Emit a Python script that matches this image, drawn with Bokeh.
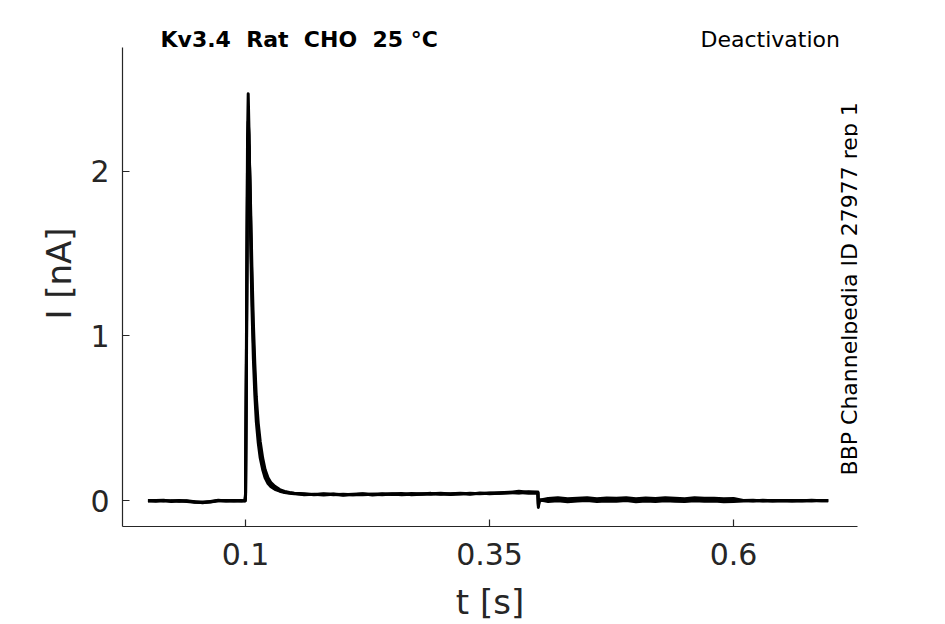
import math
from bokeh.plotting import figure
from bokeh.models import Range1d, FixedTicker, Label, ColumnDataSource
from bokeh.embed import file_html
from bokeh.resources import INLINE

# ---- data ----
t = [0.000, 0.008, 0.016, 0.024, 0.032, 0.040, 0.048, 0.056, 0.064, 0.072, 0.080, 0.088, 0.096, 0.0995,
     0.1000, 0.1010, 0.1020, 0.1027, 0.1035, 0.1045, 0.1055, 0.1065, 0.1080, 0.1095, 0.1110, 0.1130,
     0.1150, 0.1175, 0.1200, 0.1230, 0.1260, 0.1300, 0.1350, 0.1400, 0.1450, 0.1500,
     0.160, 0.170, 0.180, 0.190, 0.200, 0.210, 0.220, 0.230, 0.240, 0.250, 0.260, 0.270,
     0.280, 0.290, 0.300, 0.310, 0.320, 0.330, 0.340, 0.350, 0.360, 0.370, 0.380, 0.390, 0.3995,
     0.4000, 0.4010,
     0.410, 0.420, 0.430, 0.440, 0.450, 0.460, 0.470, 0.480, 0.490, 0.500, 0.510, 0.520, 0.530,
     0.540, 0.550, 0.560, 0.570, 0.580, 0.590, 0.600,
     0.610, 0.620, 0.630, 0.640, 0.650, 0.660, 0.670, 0.680, 0.690, 0.697]

sweep_a = [0.002, -0.003, 0.001, -0.004, 0.000, -0.002, -0.008, -0.010, -0.006, 0.001, 0.000, 0.002, -0.001, 0.000,
           0.05, 1.10, 2.20, 2.47, 2.25, 1.85, 1.48, 1.18, 0.86, 0.64, 0.48, 0.35,
           0.26, 0.19, 0.14, 0.105, 0.085, 0.070, 0.058, 0.050, 0.046, 0.043,
           0.040, 0.038, 0.042, 0.037, 0.040, 0.036, 0.041, 0.039, 0.043, 0.038, 0.040, 0.044,
           0.041, 0.045, 0.040, 0.043, 0.046, 0.042, 0.044, 0.048, 0.045, 0.047, 0.050, 0.046, 0.048,
           -0.030, 0.004,
           0.014, 0.018, 0.012, 0.016, 0.019, 0.013, 0.017, 0.015, 0.019, 0.012, 0.017, 0.014, 0.018,
           0.015, 0.013, 0.018, 0.015, 0.016, 0.012, 0.014,
           0.002, -0.001, 0.003, 0.000, 0.002, -0.002, 0.001, 0.003, 0.000, 0.001]

sweep_b = [0.000, 0.002, -0.002, 0.001, -0.003, 0.000, -0.006, -0.012, -0.004, 0.003, -0.001, 0.000, 0.001, -0.001,
           0.04, 1.00, 2.05, 2.30, 2.22, 1.92, 1.60, 1.30, 0.97, 0.74, 0.56, 0.41,
           0.31, 0.22, 0.165, 0.12, 0.095, 0.077, 0.062, 0.053, 0.048, 0.045,
           0.036, 0.040, 0.035, 0.039, 0.034, 0.038, 0.036, 0.040, 0.037, 0.041, 0.036, 0.039,
           0.043, 0.040, 0.042, 0.038, 0.041, 0.045, 0.043, 0.046, 0.049, 0.052, 0.047, 0.055, 0.050,
           -0.040, 0.002,
           0.005, 0.009, 0.003, 0.007, 0.010, 0.004, 0.008, 0.006, 0.010, 0.003, 0.008, 0.005, 0.009,
           0.006, 0.004, 0.009, 0.006, 0.007, 0.003, 0.005,
           0.001, 0.003, -0.001, 0.002, 0.000, 0.002, -0.001, 0.001, 0.002, 0.000]

sweep_c = [-0.001, 0.001, 0.003, -0.002, 0.002, -0.004, -0.009, -0.007, -0.008, 0.000, 0.002, -0.002, 0.000, 0.001,
           0.03, 0.90, 1.90, 2.18, 2.15, 1.95, 1.70, 1.42, 1.08, 0.83, 0.63, 0.47,
           0.36, 0.26, 0.19, 0.14, 0.11, 0.088, 0.068, 0.057, 0.050, 0.046,
           0.042, 0.036, 0.039, 0.041, 0.037, 0.040, 0.043, 0.035, 0.040, 0.042, 0.044, 0.037,
           0.040, 0.042, 0.046, 0.041, 0.044, 0.040, 0.047, 0.043, 0.046, 0.050, 0.058, 0.052, 0.054,
           -0.020, 0.006,
           -0.004, 0.000, -0.006, -0.002, 0.001, -0.005, -0.001, -0.003, 0.001, -0.006, -0.001, -0.004, 0.000,
           -0.003, -0.005, 0.000, -0.003, -0.002, -0.006, -0.004,
           -0.001, 0.001, 0.000, -0.002, 0.001, 0.000, 0.002, -0.001, 0.001, 0.000]

sweeps = [sweep_a, sweep_b, sweep_c]

x_ticks = [0.1, 0.35, 0.6]
x_tick_labels = ["0.1", "0.35", "0.6"]
y_ticks = [0, 1, 2]
y_tick_labels = ["0", "1", "2"]

# double gaps kept visible with a non-breaking space (SVG collapses plain runs of spaces)
title_left = "Kv3.4\u00a0 Rat\u00a0 CHO\u00a0 25 \u00b0C"
title_right = "Deactivation"
side_text = "BBP Channelpedia ID 27977 rep 1"

# ---- figure ----
FONT = "DejaVu Sans"
INK = "#262626"

X0, X1 = -0.0261, 0.727
Y0, Y1 = -0.156, 2.75

p = figure(width=925, height=624, output_backend="svg", toolbar_location=None,
           x_range=Range1d(X0, X1), y_range=Range1d(Y0, 2.914),
           min_border_left=122, min_border_right=68, min_border_top=20, min_border_bottom=98)
p.outline_line_color = None
p.xgrid.visible = False
p.ygrid.visible = False
p.background_fill_color = "white"
p.border_fill_color = "white"

for s in sweeps:
    src = ColumnDataSource(dict(t=t, i=s))
    p.line("t", "i", source=src, line_color="black", line_width=3.0, line_join="round")

for ax in (p.xaxis[0], p.yaxis[0]):
    ax.axis_line_color = INK
    ax.axis_line_width = 1.2
    ax.major_tick_line_color = INK
    ax.major_tick_line_width = 1.2
    ax.major_tick_in = 7
    ax.major_tick_out = 0
    ax.minor_tick_line_color = None
    ax.major_label_text_font = FONT
    ax.major_label_text_font_size = "30px"
    ax.major_label_text_color = INK
    ax.axis_label_text_font = FONT
    ax.axis_label_text_font_size = "34px"
    ax.axis_label_text_font_style = "normal"
    ax.axis_label_text_color = INK

p.yaxis[0].bounds = (Y0, Y1)

p.xaxis[0].ticker = FixedTicker(ticks=x_ticks)
p.xaxis[0].major_label_overrides = {v: l for v, l in zip(x_ticks, x_tick_labels)}
p.xaxis[0].axis_label = "t [s]"
p.xaxis[0].major_label_standoff = 16
p.xaxis[0].axis_label_standoff = 14

p.yaxis[0].ticker = FixedTicker(ticks=y_ticks)
p.yaxis[0].major_label_overrides = {v: l for v, l in zip(y_ticks, y_tick_labels)}
p.yaxis[0].axis_label = "I [nA]"
p.yaxis[0].major_label_standoff = 13
p.yaxis[0].axis_label_standoff = 8

p.add_layout(Label(x=0.0129, y=2.80, text=title_left, text_font=FONT, text_font_size="22px",
                   text_font_style="bold", text_color="black", text_baseline="alphabetic",
                   text_align="left"))
p.add_layout(Label(x=0.709, y=2.80, text=title_right, text_font=FONT, text_font_size="22px",
                   text_color="black", text_baseline="alphabetic", text_align="right"))
p.add_layout(Label(x=0.7185, y=0.154, text=side_text, text_font=FONT, text_font_size="22px",
                   text_color="black", text_baseline="alphabetic", text_align="left",
                   angle=math.pi / 2))

open("out.html", "w").write(file_html(p, INLINE))
